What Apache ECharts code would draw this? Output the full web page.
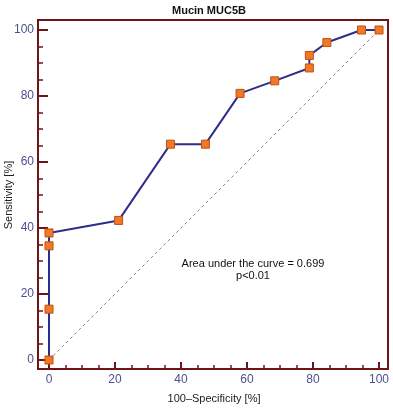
<!DOCTYPE html>
<html>
<head>
<meta charset="utf-8">
<script src="https://cdn.jsdelivr.net/npm/echarts@6/dist/echarts.min.js"></script>
<style>
  html, body { margin: 0; padding: 0; background: #fff; }
  #chart { width: 393px; height: 408px; }
</style>
</head>
<body>
<div id="chart"></div>
<script>
// ROC points: 100-specificity (x) and sensitivity (y)
var fpr = [0, 0, 0, 0, 21.1, 36.8, 47.4, 57.9, 68.4, 78.9, 78.9, 84.2, 94.7, 100];
var tpr = [0, 15.4, 34.6, 38.5, 42.3, 65.4, 65.4, 80.8, 84.6, 88.5, 92.3, 96.2, 100, 100];
var diagonal = [[0, 0], [100, 100]];
var aucText = ['Area under the curve = 0.699', 'p<0.01'];

var frameColor = '#6e1414';
var labelColor = '#4b4f8c';

var rocData = fpr.map(function (x, i) { return [x, tpr[i]]; });

var myChart = echarts.init(document.getElementById('chart'));

myChart.setOption({
  animation: false,
  title: {
    text: 'Mucin MUC5B',
    left: 204,
    textAlign: 'center',
    top: 0,
    textStyle: { fontFamily: 'Liberation Sans', fontSize: 11, fontWeight: 'bold', color: '#111' }
  },
  grid: { left: 49, right: 14, top: 30, bottom: 48, containLabel: false, outerBoundsMode: 'none' },
  xAxis: {
    type: 'value',
    min: 0, max: 100, interval: 20,
    offset: 9,
    name: '100\u2013Specificity [%]',
    nameLocation: 'middle',
    nameGap: 24,
    nameMoveOverlap: false,
    nameTextStyle: { fontFamily: 'Liberation Sans', fontSize: 11, color: '#222' },
    axisLine: { onZero: false, lineStyle: { color: frameColor, width: 2 } },
    axisTick: { inside: true, length: 7, lineStyle: { color: frameColor, width: 2 } },
    minorTick: { show: true, splitNumber: 4, length: 4, lineStyle: { color: frameColor, width: 1.5 } },
    axisLabel: { margin: 5, fontFamily: 'Liberation Sans', fontSize: 12, color: labelColor },
    splitLine: { show: false }
  },
  yAxis: {
    type: 'value',
    min: 0, max: 100, interval: 20,
    offset: 11,
    name: 'Sensitivity [%]',
    nameLocation: 'middle',
    nameGap: 24,
    nameMoveOverlap: false,
    nameTextStyle: { fontFamily: 'Liberation Sans', fontSize: 11, color: '#222' },
    axisLine: { onZero: false, lineStyle: { color: frameColor, width: 2 } },
    axisTick: { inside: true, length: 10, lineStyle: { color: frameColor, width: 2 } },
    minorTick: { show: true, splitNumber: 4, length: 5, lineStyle: { color: frameColor, width: 1.5 } },
    axisLabel: { margin: 4, fontFamily: 'Liberation Sans', fontSize: 12, color: labelColor },
    splitLine: { show: false }
  },
  graphic: [
    {
      type: 'rect',
      shape: { x: 38, y: 20, width: 350, height: 349 },
      style: { fill: 'none', stroke: frameColor, lineWidth: 2 },
      silent: true
    },
    {
      type: 'text',
      x: 253, y: 264,
      style: {
        text: aucText[0], textAlign: 'center', textVerticalAlign: 'middle',
        font: '11px "Liberation Sans"', fill: '#111'
      }
    },
    {
      type: 'text',
      x: 253, y: 276,
      style: {
        text: aucText[1], textAlign: 'center', textVerticalAlign: 'middle',
        font: '11px "Liberation Sans"', fill: '#111'
      }
    }
  ],
  series: [
    {
      type: 'line',
      data: diagonal,
      symbol: 'none',
      silent: true,
      lineStyle: { color: '#8a8a8a', width: 1, type: [3, 3] }
    },
    {
      type: 'line',
      data: rocData,
      clip: false,
      symbol: 'rect',
      symbolSize: 8,
      lineStyle: { color: '#2e2e8a', width: 2 },
      itemStyle: { color: '#f07828', borderColor: '#c05010', borderWidth: 1 }
    }
  ]
});
</script>
</body>
</html>
